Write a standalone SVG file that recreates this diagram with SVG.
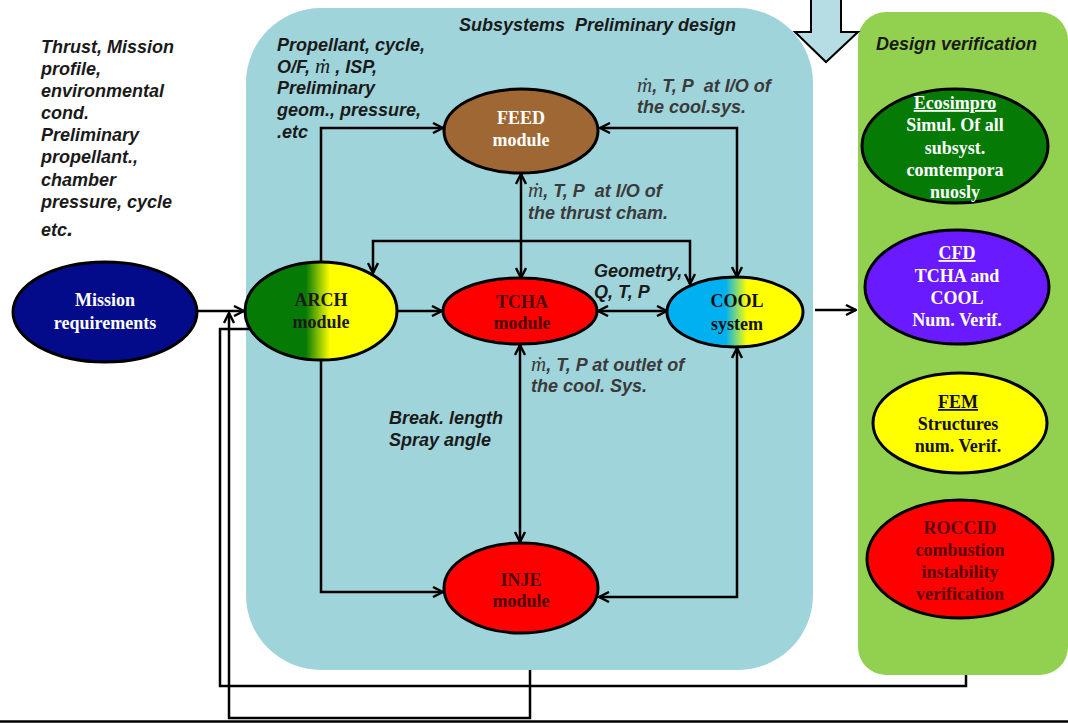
<svg xmlns="http://www.w3.org/2000/svg" width="1068" height="723" viewBox="0 0 1068 723">
<defs>
<linearGradient id="gArch" x1="0" y1="0" x2="1" y2="0">
<stop offset="0" stop-color="#057a05"/><stop offset="0.40" stop-color="#057a05"/><stop offset="0.56" stop-color="#ffff00"/><stop offset="1" stop-color="#ffff00"/>
</linearGradient>
<linearGradient id="gCool" x1="0" y1="0" x2="1" y2="0">
<stop offset="0" stop-color="#00b0f0"/><stop offset="0.43" stop-color="#00b0f0"/><stop offset="0.59" stop-color="#ffff00"/><stop offset="1" stop-color="#ffff00"/>
</linearGradient>
<marker id="ah" viewBox="0 0 12 12" refX="11" refY="6" markerWidth="12" markerHeight="12" markerUnits="userSpaceOnUse" orient="auto-start-reverse">
<path d="M1,1 L11,6 L1,11" fill="none" stroke="#000" stroke-width="2.4"/>
</marker>
<style>
.con{fill:none;stroke:#000;stroke-width:2.5}
.nd{stroke:#000;stroke-width:3}
.nt{font-family:"Liberation Serif","Times New Roman",serif;font-weight:bold;font-size:18px;text-anchor:middle}
.lab{font-family:"Liberation Sans",Arial,sans-serif;font-weight:bold;font-style:italic;font-size:18px;fill:#1a1a1a}
.gl{fill:#3a3a3a}
.md{font-family:"Liberation Serif","Times New Roman",serif;font-style:italic;font-weight:normal;font-size:21px}
</style>
</defs>
<rect id="subsystems-panel" x="246" y="8" width="567" height="662" rx="75" ry="75" fill="#9fd4da"/>
<rect id="verification-panel" x="858" y="12" width="210" height="663" rx="28" ry="28" fill="#92d050"/>
<polygon id="down-arrow" points="811,-2 841,-2 841,32 858,32 826,62 795,32 811,32" fill="#b6dde4" stroke="#000" stroke-width="2"/>

<g id="connectors">
<path class="con" d="M197,311 H244" marker-end="url(#ah)"/>
<path class="con" d="M397,311 H442" marker-end="url(#ah)"/>
<path class="con" d="M321,262 V128 H443" marker-end="url(#ah)"/>
<path class="con" d="M321,360 V592 H443" marker-end="url(#ah)"/>
<path class="con" d="M521,174 V278" marker-start="url(#ah)" marker-end="url(#ah)"/>
<path class="con" d="M520,345 V542" marker-start="url(#ah)" marker-end="url(#ah)"/>
<path class="con" d="M598,311 H667" marker-start="url(#ah)" marker-end="url(#ah)"/>
<path class="con" d="M600,128 H737 V277" marker-start="url(#ah)" marker-end="url(#ah)"/>
<path class="con" d="M373,273 V241 H690 V284" marker-start="url(#ah)" marker-end="url(#ah)"/>
<path class="con" d="M737,348 V597 H599" marker-start="url(#ah)" marker-end="url(#ah)"/>
<path class="con" d="M815,310 H856" marker-end="url(#ah)"/>
<path class="con" d="M966,675 V686 H220 V329 H262" marker-end="url(#ah)"/>
<path class="con" d="M530,670 V718 H229 V313" marker-end="url(#ah)"/>
<path d="M0,721.5 H1068" stroke="#000" stroke-width="2.5"/>
</g>

<g id="mission">
<ellipse class="nd" cx="105" cy="312" rx="92" ry="50" fill="#030b8a" stroke-width="2"/>
<text class="nt" fill="#fff"><tspan x="105" y="306">Mission</tspan><tspan x="105" y="329">requirements</tspan></text>
</g>
<g id="arch">
<ellipse class="nd" cx="321" cy="311" rx="76" ry="49" fill="url(#gArch)"/>
<text class="nt" fill="#1a1a1a"><tspan x="321" y="306">ARCH</tspan><tspan x="321" y="328">module</tspan></text>
</g>
<g id="feed">
<ellipse class="nd" cx="521" cy="131" rx="77" ry="42" fill="#9e6734"/>
<text class="nt" fill="#fff"><tspan x="521" y="124">FEED</tspan><tspan x="521" y="146">module</tspan></text>
</g>
<g id="tcha">
<ellipse class="nd" cx="520" cy="311" rx="77" ry="33" fill="#ff0000"/>
<text class="nt" fill="#4d0000"><tspan x="522" y="308">TCHA</tspan><tspan x="522" y="329">module</tspan></text>
</g>
<g id="cool">
<ellipse class="nd" cx="735" cy="312" rx="68" ry="35" fill="url(#gCool)"/>
<text class="nt" fill="#111"><tspan x="737" y="307">COOL</tspan><tspan x="737" y="330">system</tspan></text>
</g>
<g id="inje">
<ellipse class="nd" cx="521" cy="588" rx="77" ry="45" fill="#ff0000"/>
<text class="nt" fill="#4d0000"><tspan x="521" y="586">INJE</tspan><tspan x="521" y="607">module</tspan></text>
</g>
<g id="ecosimpro">
<ellipse class="nd" cx="955" cy="146" rx="93" ry="57" fill="#057a05"/>
<text class="nt" fill="#fff"><tspan x="955" y="109" text-decoration="underline">Ecosimpro</tspan><tspan x="955" y="131">Simul. Of all</tspan><tspan x="955" y="154">subsyst.</tspan><tspan x="955" y="176">comtempora</tspan><tspan x="955" y="198">nuosly</tspan></text>
</g>
<g id="cfd">
<ellipse class="nd" cx="957" cy="287" rx="92" ry="57" fill="#6a1aff"/>
<text class="nt" fill="#fff"><tspan x="957" y="259" text-decoration="underline">CFD</tspan><tspan x="957" y="282">TCHA and</tspan><tspan x="957" y="304">COOL</tspan><tspan x="957" y="326">Num. Verif.</tspan></text>
</g>
<g id="fem">
<ellipse class="nd" cx="960" cy="423" rx="87" ry="50" fill="#ffff00"/>
<text class="nt" fill="#111"><tspan x="958" y="408" text-decoration="underline">FEM</tspan><tspan x="958" y="430">Structures</tspan><tspan x="958" y="452">num. Verif.</tspan></text>
</g>
<g id="roccid">
<ellipse class="nd" cx="960" cy="559" rx="93" ry="59" fill="#ff0000"/>
<text class="nt" fill="#5a0000"><tspan x="960" y="534">ROCCID</tspan><tspan x="960" y="556">combustion</tspan><tspan x="960" y="578">instability</tspan><tspan x="960" y="600">verification</tspan></text>
</g>

<g id="labels">
<text class="lab" fill="#111"><tspan x="41" y="53">Thrust, Mission</tspan><tspan x="41" y="75">profile,</tspan><tspan x="41" y="97">environmental</tspan><tspan x="41" y="119">cond.</tspan><tspan x="41" y="141">Preliminary</tspan><tspan x="41" y="163">propellant.,</tspan><tspan x="41" y="186">chamber</tspan><tspan x="41" y="208">pressure, cycle</tspan><tspan x="41" y="236">etc<tspan font-size="22">.</tspan></tspan></text>
<text class="lab" x="459" y="31">Subsystems&#160; Preliminary design</text>
<text class="lab"><tspan x="277" y="51">Propellant, cycle,</tspan><tspan x="277" y="73">O/F, <tspan class="md">ṁ</tspan> , ISP,</tspan><tspan x="277" y="94">Preliminary</tspan><tspan x="277" y="116">geom., pressure,</tspan><tspan x="277" y="138">.etc</tspan></text>
<text class="lab gl"><tspan x="637" y="92"><tspan class="md">ṁ</tspan>, T, P&#160; at I/O of</tspan><tspan x="637" y="113">the cool.sys.</tspan></text>
<text class="lab gl"><tspan x="528" y="197"><tspan class="md">ṁ</tspan>, T, P&#160; at I/O of</tspan><tspan x="528" y="219">the thrust cham.</tspan></text>
<text class="lab"><tspan x="594" y="277">Geometry,</tspan><tspan x="594" y="298">Q, T, P</tspan></text>
<text class="lab gl"><tspan x="531" y="371"><tspan class="md">ṁ</tspan>, T, P at outlet of</tspan><tspan x="531" y="392">the cool. Sys.</tspan></text>
<text class="lab"><tspan x="389" y="424">Break. length</tspan><tspan x="389" y="446">Spray angle</tspan></text>
<text class="lab" x="876" y="50" font-size="16.5">Design verification</text>
</g>
</svg>
